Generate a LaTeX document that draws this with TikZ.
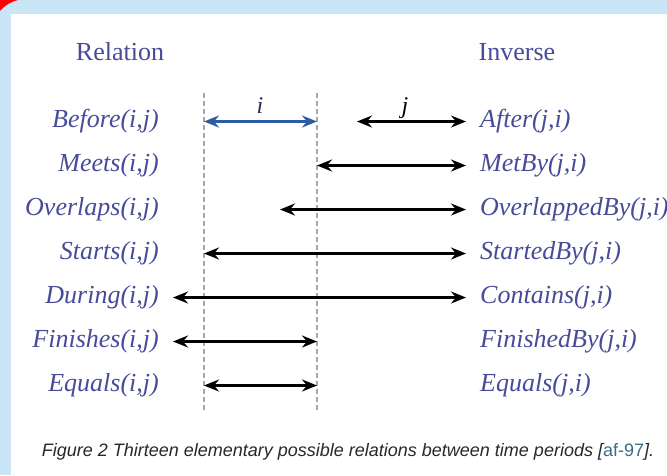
\documentclass[tikz,border=0pt]{standalone}
\usepackage{fontspec}
\setmainfont{Liberation Serif}
\newfontfamily\capfont{Liberation Sans}
\usetikzlibrary{arrows.meta}

\definecolor{relblue}{RGB}{72,76,152}
\definecolor{ivlblue}{RGB}{46,92,164}
\definecolor{slideblue}{RGB}{202,229,246}
\definecolor{captext}{RGB}{40,40,40}
\definecolor{citeblue}{RGB}{58,110,134}

\tikzset{
	rel/.style={font=\fontsize{26}{30}\selectfont\itshape, text=relblue, inner sep=0pt},
	head/.style={font=\fontsize{26}{30}\selectfont, text=relblue, inner sep=0pt},
	ivlname/.style={font=\fontsize{24}{28}\selectfont\itshape, inner sep=0pt, anchor=base},
	ivl/.style={line width=3.3pt, {Stealth[length=15pt,width=12pt,inset=5pt]}-{Stealth[length=15pt,width=12pt,inset=5pt]}},
	guide/.style={gray!70, line width=1.4pt, dash pattern=on 5pt off 3pt},
}

\begin{document}
\begin{tikzpicture}[x=1pt,y=-1pt]
	\useasboundingbox (0,0) rectangle (667,475);
	% slide frame
	\fill[white] (0,0) rectangle (667,475);
	\fill[slideblue] (0,0) rectangle (667,14);
	\fill[slideblue] (0,0) rectangle (11,475);
	\fill[red] (0,0) -- (18,0) .. controls (10,2) and (4,6) .. (0,11) -- cycle;
	\clip (0,0) rectangle (667,475);

	\node[head] (hRel) at (120,52) {Relation};
	\node[head] (hInv) at (517,52) {Inverse};

	% guides of interval i
	\coordinate (iS) at (204,93);
	\coordinate (iE) at (317,93);
	\coordinate (iSb) at (204,412);
	\coordinate (iEb) at (317,412);
	\draw[guide] (iS) -- (iSb);
	\draw[guide] (iE) -- (iEb);

	% relations and inverses
	\node[rel, anchor=east] (lBefore) at (159,121.5) {Before(i,j)};
	\node[rel, anchor=east] (lMeets) at (159,165.5) {Meets(i,j)};
	\node[rel, anchor=east] (lOverlaps) at (159,209.5) {Overlaps(i,j)};
	\node[rel, anchor=east] (lStarts) at (159,253.5) {Starts(i,j)};
	\node[rel, anchor=east] (lDuring) at (159,297.5) {During(i,j)};
	\node[rel, anchor=east] (lFinishes) at (159,341.5) {Finishes(i,j)};
	\node[rel, anchor=east] (lEquals) at (159,385.5) {Equals(i,j)};

	\node[rel, anchor=west] (rAfter) at (480,121.5) {After(j,i)};
	\node[rel, anchor=west] (rMetBy) at (480,165.5) {MetBy(j,i)};
	\node[rel, anchor=west] (rOverlapped) at (480,209.5) {OverlappedBy(j,i)};
	\node[rel, anchor=west] (rStarted) at (480,253.5) {StartedBy(j,i)};
	\node[rel, anchor=west] (rContains) at (480,297.5) {Contains(j,i)};
	\node[rel, anchor=west] (rFinished) at (480,341.5) {FinishedBy(j,i)};
	\node[rel, anchor=west] (rEquals) at (480,385.5) {Equals(j,i)};

	% arrow ends that are off the guides
	\coordinate (xLo) at (173,0);
	\coordinate (xOv) at (280,0);
	\coordinate (xJs) at (357,0);
	\coordinate (xHi) at (466,0);

	\draw[ivl, ivlblue] (iS |- lBefore) -- (iE |- lBefore);
	\node[ivlname, text=relblue!60!black] (nI) at (260,113) {i};
	\draw[ivl] (xJs |- rAfter) -- (xHi |- rAfter);
	\node[ivlname] (nJ) at (405,113) {j};
	\draw[ivl] (iE |- lMeets) -- (xHi |- rMetBy);
	\draw[ivl] (xOv |- lOverlaps) -- (xHi |- rOverlapped);
	\draw[ivl] (iS |- lStarts) -- (xHi |- rStarted);
	\draw[ivl] (xLo |- lDuring) -- (xHi |- rContains);
	\draw[ivl] (xLo |- lFinishes) -- (iE |- lFinishes);
	\draw[ivl] (iS |- lEquals) -- (iE |- lEquals);

	\node[font=\capfont\itshape\fontsize{18}{22}\selectfont, text=captext, inner sep=0pt] (cap) at (348,452)
		{Figure 2 Thirteen elementary possible relations between time periods [{\upshape\color{citeblue}af-97}].};
\end{tikzpicture}
\end{document}
